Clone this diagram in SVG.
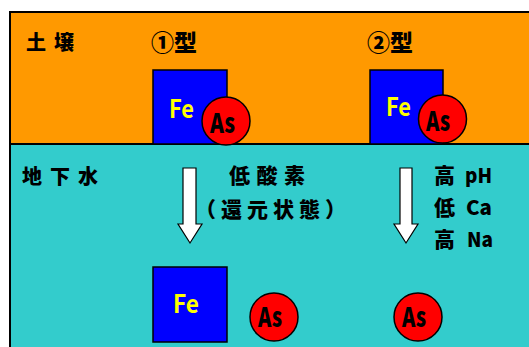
<svg xmlns="http://www.w3.org/2000/svg" width="529" height="347" viewBox="0 0 529 347">
<style>
.jp{font-family:"Noto Sans CJK JP","Noto Sans CJK SC",sans-serif;font-weight:900;fill:#000}
.box{fill:#0000FF;stroke:#000;stroke-width:1.5}
.as{fill:#FF0000;stroke:#000;stroke-width:1.5}
.fe{font-family:"Noto Sans CJK JP",sans-serif;font-weight:bold;fill:#FFFF00}
.ast{font-family:"Noto Sans CJK JP",sans-serif;font-weight:900;fill:#000}
.arrow{fill:#FFFFFF;stroke:#000;stroke-width:1.2}
</style>
<rect width="529" height="347" fill="#FFFFFF"/>
<g id="soil">
<rect x="10" y="12" width="530" height="132" fill="#FF9900" stroke="#000" stroke-width="2"/>
<text class="jp" x="26" y="50" font-size="20" letter-spacing="8">土壌</text>
<text class="jp" x="151" y="51" font-size="23">①型</text>
<text class="jp" x="367" y="51" font-size="23">②型</text>
</g>
<g id="groundwater">
<rect x="10" y="144" width="530" height="210" fill="#33CCCC" stroke="#000" stroke-width="2"/>
<text class="jp" x="22" y="184" font-size="20" letter-spacing="8">地下水</text>
<text class="jp" x="229" y="183" font-size="21" letter-spacing="6.5">低酸素</text>
<text class="jp" x="195" y="217" font-size="21" letter-spacing="5">（還元状態）</text>
<text class="jp" x="434" y="183" font-size="21">高</text>
<text class="jp" x="465" y="183" font-size="20" textLength="27" lengthAdjust="spacingAndGlyphs">pH</text>
<text class="jp" x="434" y="215" font-size="21">低</text>
<text class="jp" x="466" y="215" font-size="20" textLength="26" lengthAdjust="spacingAndGlyphs">Ca</text>
<text class="jp" x="434" y="247" font-size="21">高</text>
<text class="jp" x="467" y="247" font-size="20" textLength="26" lengthAdjust="spacingAndGlyphs">Na</text>
</g>
<g id="type1">
<rect class="box" x="153" y="70" width="74" height="74"/>
<text class="fe" x="169" y="118" font-size="25" textLength="25" lengthAdjust="spacingAndGlyphs">Fe</text>
<circle class="as" cx="226" cy="121" r="24"/>
<text class="ast" x="210" y="133" font-size="27" textLength="25" lengthAdjust="spacingAndGlyphs">As</text>
</g>
<g id="type2">
<rect class="box" x="370" y="70" width="73" height="74"/>
<text class="fe" x="386" y="116" font-size="25" textLength="25" lengthAdjust="spacingAndGlyphs">Fe</text>
<circle class="as" cx="442.5" cy="119" r="24"/>
<text class="ast" x="426" y="131" font-size="27" textLength="24" lengthAdjust="spacingAndGlyphs">As</text>
</g>
<g id="result1">
<rect class="box" x="153" y="267" width="74" height="75"/>
<text class="fe" x="173" y="313" font-size="25" textLength="26" lengthAdjust="spacingAndGlyphs">Fe</text>
<circle class="as" cx="274" cy="317" r="24"/>
<text class="ast" x="258" y="327" font-size="27" textLength="24" lengthAdjust="spacingAndGlyphs">As</text>
</g>
<g id="result2">
<circle class="as" cx="418" cy="317" r="24"/>
<text class="ast" x="402" y="327" font-size="27" textLength="24" lengthAdjust="spacingAndGlyphs">As</text>
</g>
<g id="connectors">
<polygon class="arrow" points="183,168 196,168 196,224 202,224 190,243 178,224 183,224"/>
<polygon class="arrow" points="400,168 412,168 412,224 418,224 406,243 394,224 400,224"/>
</g>
</svg>
